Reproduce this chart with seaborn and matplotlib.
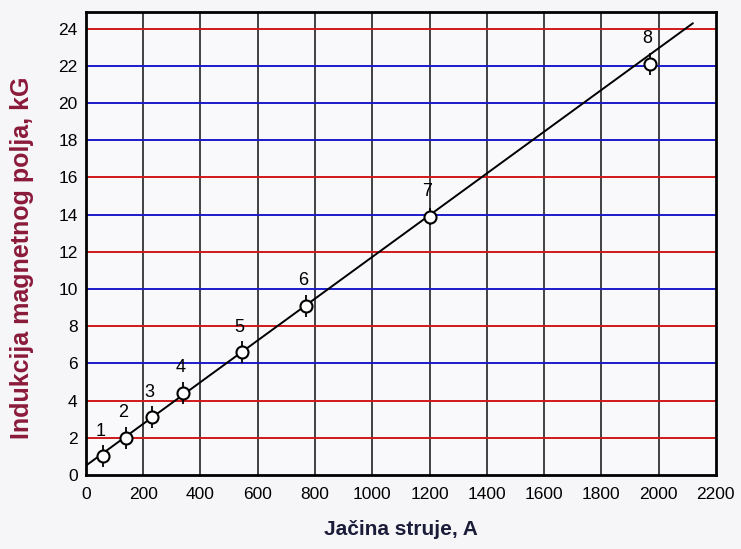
import numpy as np
import pandas as pd
import matplotlib
matplotlib.use("Agg")
import matplotlib.pyplot as plt
import seaborn as sns

point_ids = ["1", "2", "3", "4", "5", "6", "7", "8"]
current_a = [60, 140, 230, 340, 545, 770, 1200, 1970]
field_kg = [1.0, 2.0, 3.1, 4.4, 6.6, 9.1, 13.9, 22.1]
field_err = [0.6, 0.6, 0.6, 0.6, 0.6, 0.6, 0.45, 0.6]

# straight fit line as drawn in the picture
fit_x = [0, 2120]
fit_y = [0.5, 24.3]

x_ticks = list(range(0, 2201, 200))
y_ticks = list(range(0, 25, 2))
grid_colors = ["#d01818", "#d01818", "#1a1acc", "#d01818", "#1a1acc", "#d01818",
               "#1a1acc", "#d01818", "#1a1acc", "#1a1acc", "#1a1acc", "#d01818"]

df = pd.DataFrame({"struja": current_a, "polje": field_kg, "id": point_ids})
fit_df = pd.DataFrame({"x": fit_x, "y": fit_y})

sns.set_style("white")
plt.rcParams["font.family"] = ["Liberation Sans", "DejaVu Sans"]

fig = plt.figure(figsize=(7.41, 5.49), dpi=100, facecolor="#f6f6f8")
ax = fig.add_axes([0.116, 0.135, 0.85, 0.843])
ax.set_facecolor("#f9f9fb")

# grid
for x in x_ticks[1:-1]:
    ax.axvline(x, color="#333333", lw=1.3, zorder=1)
for y, c in zip(y_ticks[1:], grid_colors):
    ax.axhline(y, color=c, lw=1.4, zorder=1)

sns.lineplot(data=fit_df, x="x", y="y", color="black", lw=1.4, ax=ax, zorder=3)
ax.errorbar(current_a, field_kg, yerr=field_err, fmt="none", ecolor="black",
            elinewidth=1.3, zorder=4)
sns.scatterplot(data=df, x="struja", y="polje", marker="o", s=75,
                facecolor="white", edgecolor="black", linewidth=1.5, ax=ax, zorder=5)

for _, r in df.iterrows():
    ax.annotate(r["id"], (r["struja"], r["polje"]), textcoords="offset points",
                xytext=(-2, 12), ha="center", va="bottom", fontsize=13, color="black")

ax.set_xlim(0, 2200)
ax.set_ylim(0, 24.9)
ax.set_xticks(x_ticks)
ax.set_yticks(y_ticks)
ax.tick_params(labelsize=12.5, colors="black", length=0)
ax.tick_params(axis="x", pad=9)
ax.tick_params(axis="y", pad=6)
for s in ax.spines.values():
    s.set_color("black")
    s.set_linewidth(2)

ax.set_xlabel("Jačina struje, A", fontsize=15, fontweight="bold", color="#1b1b3a", labelpad=13)
ax.set_ylabel("Indukcija magnetnog polja, kG", fontsize=18, fontweight="bold",
              color="#8b1a3a")
ax.yaxis.set_label_coords(-0.083, 0.47)

fig.savefig("out.png", dpi=100, facecolor=fig.get_facecolor())
